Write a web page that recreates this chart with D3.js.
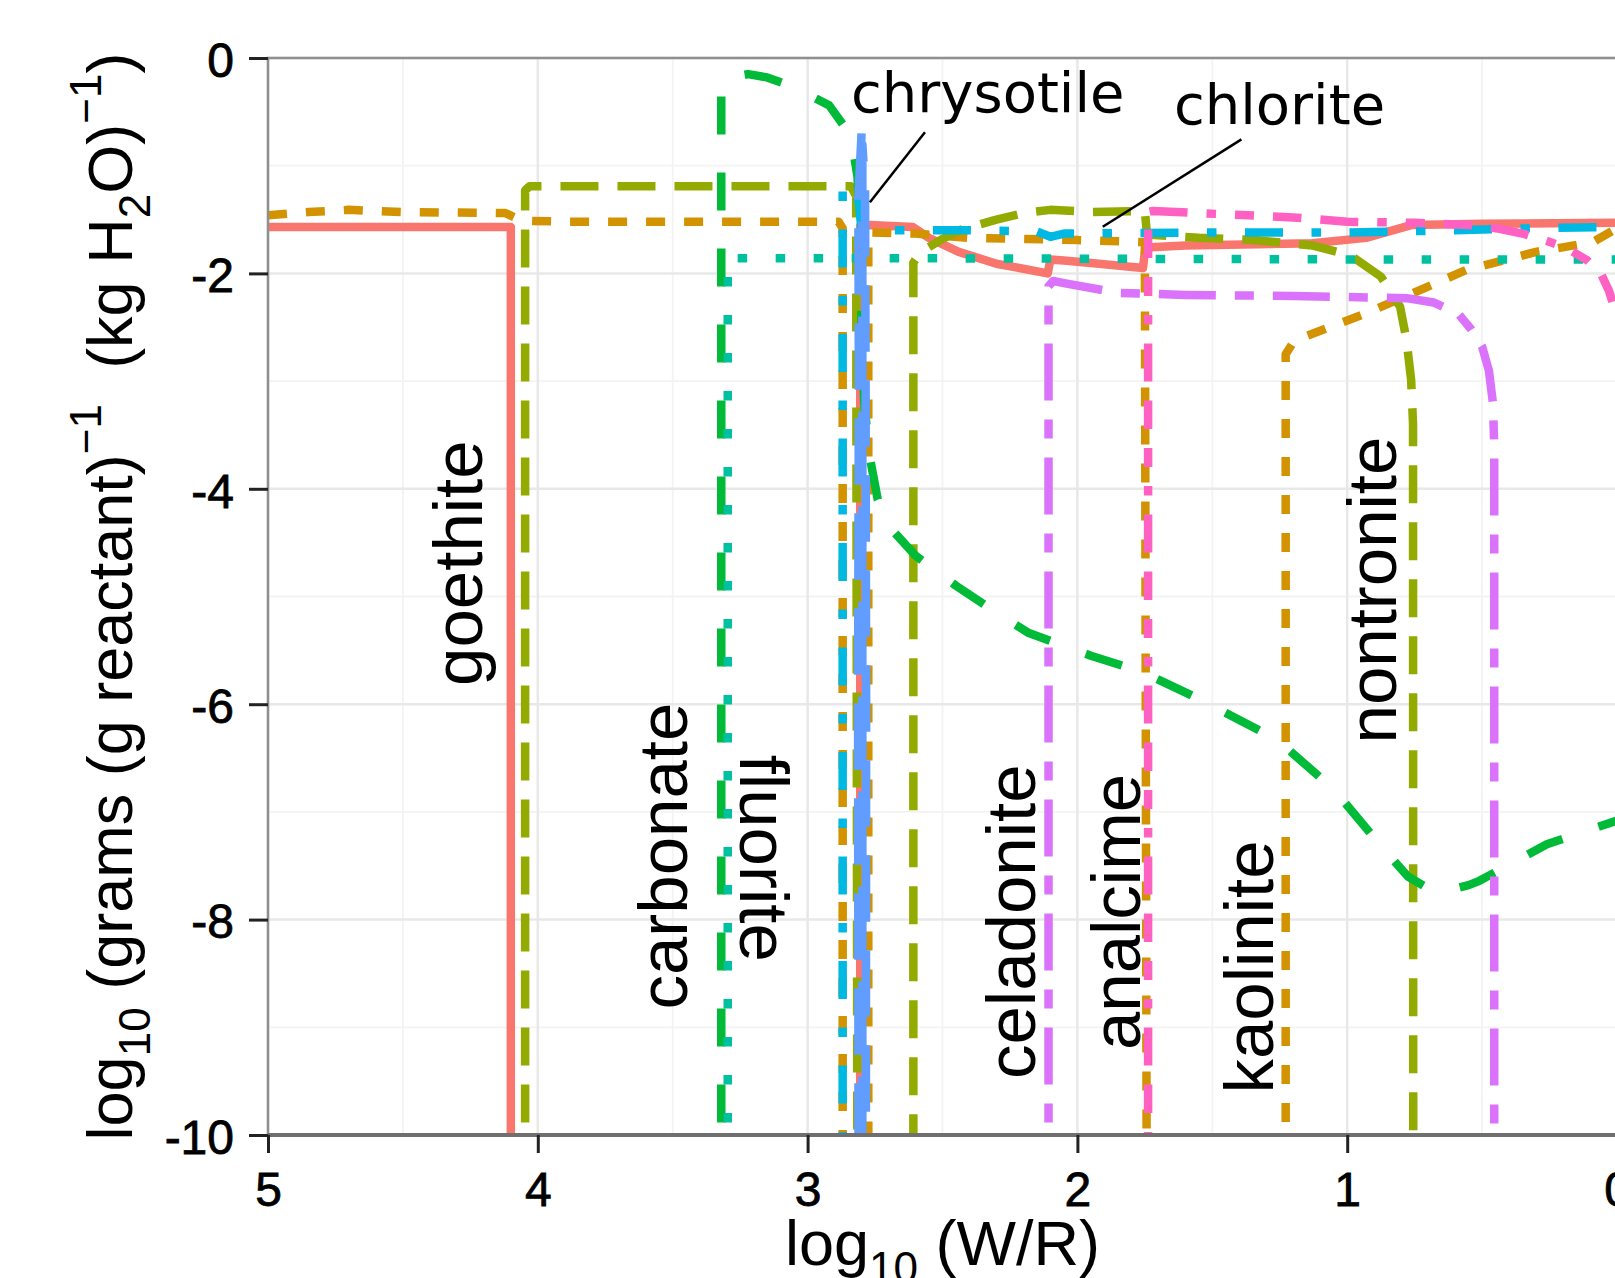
<!DOCTYPE html>
<html>
<head>
<meta charset="utf-8">
<script src="https://cdn.jsdelivr.net/npm/d3@7"></script>
<style>
  body { margin: 0; background: #fff; }
  svg { display: block; }
</style>
</head>
<body>
<svg id="chart" width="1615" height="1278"></svg>
<script>
// x = log10(W/R), y = log10 grams per kg H2O. y = -12 marks values below the -10 floor.
const xTicks = [5, 4, 3, 2, 1, 0];
const yTicks = [0, -2, -4, -6, -8, -10];

const goethite = [[5,-1.57],[4.1,-1.57],[4.1,-12],[2.805,-12],[2.805,-1.56],[2.77,-1.55],[2.61,-1.57],[2.55,-1.67],[2.44,-1.8],[2.3,-1.91],[2.11,-2.0],[2.10,-1.87],[2.05,-1.88],[1.92,-1.91],[1.757,-1.95],[1.748,-1.76],[1.6,-1.74],[1.13,-1.72],[0.93,-1.67],[0.76,-1.55],[0.5,-1.54],[0,-1.53]];
const kaolinite = [[5,-1.46],[4.85,-1.43],[4.7,-1.41],[4.5,-1.43],[4.12,-1.44],[4.06,-1.51],[3.9,-1.52],[2.885,-1.52],[2.87,-1.58],[2.87,-12],[2.775,-12],[2.775,-1.62],[2.6,-1.63],[2.4,-1.67],[2.0,-1.69],[1.75,-1.71],[1.742,-12],[1.228,-12],[1.228,-2.75],[1.2,-2.64],[1.15,-2.58],[0.93,-2.37],[0.56,-1.97],[0.3,-1.8],[0.09,-1.71],[0,-1.58]];
const nontronite = [[4.047,-12],[4.047,-1.23],[4.03,-1.19],[3.5,-1.19],[2.84,-1.19],[2.82,-1.28],[2.815,-12],[2.608,-12],[2.608,-1.9],[2.58,-1.8],[2.5,-1.68],[2.44,-1.6],[2.3,-1.5],[2.2,-1.44],[2.1,-1.41],[1.95,-1.43],[1.75,-1.42],[1.742,-1.64],[1.55,-1.67],[1.35,-1.69],[1.13,-1.74],[0.99,-1.83],[0.875,-2.03],[0.804,-2.31],[0.78,-2.62],[0.763,-2.99],[0.756,-3.4],[0.755,-12]];
const carbonate = [[3.32,-12],[3.32,-0.25],[3.29,-0.18],[3.22,-0.15],[3.15,-0.18],[3.05,-0.27],[2.92,-0.44],[2.84,-0.72],[2.815,-1.1],[2.805,-1.6],[2.8,-2.5],[2.79,-3.2],[2.77,-3.7],[2.74,-4.1],[2.68,-4.4],[2.6,-4.62],[2.45,-4.9],[2.3,-5.15],[2.18,-5.34],[1.95,-5.55],[1.76,-5.7],[1.55,-5.95],[1.26,-6.33],[1.05,-6.79],[0.87,-7.33],[0.775,-7.6],[0.7,-7.71],[0.645,-7.74],[0.55,-7.68],[0.51,-7.64],[0.26,-7.3],[0,-7.08]];
const fluorite = [[3.296,-12],[3.296,-1.86],[2.5,-1.86],[1.0,-1.87],[0,-1.87]];
const chlorite = [[2.87,-12],[2.87,-1.2],[2.855,-1.18],[2.83,-1.18],[2.81,-1.35],[2.8,-1.6],[2.75,-1.6],[2.4,-1.6],[2.15,-1.61],[2.1,-1.66],[2.05,-1.63],[1.5,-1.62],[1.0,-1.62],[0.6,-1.6],[0.3,-1.58],[0,-1.57]];
const chrysotile = [[2.8,-0.7],[2.812,-1.3],[2.81,-3],[2.813,-6],[2.811,-10.5],[2.784,-10.5],[2.783,-6],[2.785,-3],[2.787,-1.2],[2.797,-0.8],[2.797,-10.5]];
const celadonite = [[2.107,-12],[2.107,-2.12],[2.09,-2.07],[2.05,-2.09],[1.85,-2.18],[1.6,-2.2],[1.2,-2.21],[0.78,-2.23],[0.68,-2.27],[0.59,-2.37],[0.54,-2.52],[0.5,-2.68],[0.475,-2.9],[0.46,-3.2],[0.455,-3.6],[0.455,-12]];
const analcime = [[1.738,-12],[1.738,-1.43],[1.72,-1.42],[1.55,-1.44],[1.2,-1.48],[1.0,-1.52],[0.75,-1.53],[0.55,-1.55],[0.45,-1.58],[0.35,-1.63],[0.27,-1.69],[0.19,-1.76],[0.11,-1.88],[0.06,-2.0],[0.03,-2.16],[0,-2.4]];

const seriesData = [goethite, kaolinite, nontronite, carbonate, fluorite, chlorite, chrysotile, celadonite, analcime];
const colors = ["#F8766D", "#D39200", "#93AA00", "#00BA38", "#00C19F", "#00B9E3", "#619CFF", "#DB72FB", "#FF61C3"];
const linetypes = ["solid", "22", "42", "44", "13", "1343", "73", "2262", "12223242"];

// vertical mineral labels: name, x (baseline), y (centre), rotation
const vLabels = ["goethite", "carbonate", "fluorite", "celadonite", "analcime", "kaolinite", "nontronite"];
const vLabelX = [4.207, 3.447, 3.25, 2.157, 1.768, 1.275, 0.82];
const vLabelY = [-4.69, -7.41, -7.43, -8.02, -7.93, -8.44, -4.94];
const vLabelRot = [-90, -90, 90, -90, -90, -90, -90];

// labels with leader lines
const tLabels = ["chrysotile", "chlorite"];
const tLabelX = [2.839, 1.642];
const tLabelY = [-0.505, -0.615];
const leaderFrom = [[2.769, -1.34], [1.906, -1.567]];
const leaderTo = [[2.565, -0.689], [1.392, -0.756]];

const svg = d3.select("#chart");
const padL = 268, padT = 58, padB = 1135, padR = 1617;

const x = d3.scaleLinear().domain([5, 0]).range([padL, padR]);
const y = d3.scaleLinear().domain([-10, 0]).range([padB, padT]);

const lw = 8.5, unit = 9.5;
const dash = lt => lt === "solid" ? null : lt.split("").map(c => +c * unit).join(",");

svg.append("defs").append("clipPath").attr("id", "panel")
  .append("rect").attr("x", padL).attr("y", padT).attr("width", padR - padL).attr("height", padB - padT);

// grid
const grid = svg.append("g");
const xMinor = d3.range(4.5, -0.1, -1);
const yMinor = d3.range(-1, -10, -2);
grid.selectAll(".xm").data(xMinor).join("line")
  .attr("x1", d => x(d)).attr("x2", d => x(d)).attr("y1", padT).attr("y2", padB)
  .attr("stroke", "#f3f3f3").attr("stroke-width", 1.8);
grid.selectAll(".ym").data(yMinor).join("line")
  .attr("y1", d => y(d)).attr("y2", d => y(d)).attr("x1", padL).attr("x2", padR)
  .attr("stroke", "#f3f3f3").attr("stroke-width", 1.8);
grid.selectAll(".xM").data(xTicks).join("line")
  .attr("x1", d => x(d)).attr("x2", d => x(d)).attr("y1", padT).attr("y2", padB)
  .attr("stroke", "#e8e8e8").attr("stroke-width", 2.5);
grid.selectAll(".yM").data(yTicks).join("line")
  .attr("y1", d => y(d)).attr("y2", d => y(d)).attr("x1", padL).attr("x2", padR)
  .attr("stroke", "#e8e8e8").attr("stroke-width", 2.5);

// series
const line = d3.line().x(d => x(d[0])).y(d => y(d[1]));
svg.append("g").attr("clip-path", "url(#panel)")
  .selectAll("path").data(seriesData).join("path")
  .attr("d", line)
  .attr("fill", "none")
  .attr("stroke", (d, i) => colors[i])
  .attr("stroke-width", lw)
  .attr("stroke-linejoin", "round")
  .attr("stroke-linecap", "butt")
  .attr("stroke-dasharray", (d, i) => dash(linetypes[i]));

// panel border and bottom axis line
svg.append("rect").attr("x", padL).attr("y", padT).attr("width", padR - padL).attr("height", padB - padT)
  .attr("fill", "none").attr("stroke", "#8f8f8f").attr("stroke-width", 2.5);
svg.append("line").attr("x1", padL).attr("x2", padR).attr("y1", padB).attr("y2", padB)
  .attr("stroke", "#6f6f6f").attr("stroke-width", 4);

// axes
const tickFont = "'Liberation Sans', Arial, Helvetica, sans-serif";
const xAxis = svg.append("g").attr("transform", `translate(0,${padB})`)
  .call(d3.axisBottom(x).tickValues(xTicks).tickFormat(d => String(d)).tickSize(18).tickPadding(19));
const yAxis = svg.append("g").attr("transform", `translate(${padL},0)`)
  .call(d3.axisLeft(y).tickValues(yTicks).tickFormat(d => String(d)).tickSize(19).tickPadding(15));
[xAxis, yAxis].forEach(a => {
  a.select(".domain").remove();
  a.selectAll(".tick line").attr("stroke", "#222").attr("stroke-width", 3);
  a.selectAll(".tick text").attr("fill", "#000").attr("font-size", 48).attr("font-family", tickFont)
    .attr("stroke", "#000").attr("stroke-width", 0.8);
});
yAxis.selectAll(".tick text").attr("dy", "0.38em");

// rich text helper for sub/superscripts
function rich(sel, parts, fs) {
  let shift = 0;
  parts.forEach(([t, k]) => {
    const target = k === "sub" ? 0.28 * fs : k === "sup" ? -0.5 * fs : 0;
    sel.append("tspan")
      .attr("dy", target - shift)
      .attr("font-size", k === "n" ? fs : 0.7 * fs)
      .text(t);
    shift = target;
  });
}

const titleFs = 63;
const xt = svg.append("text")
  .attr("x", (padL + padR) / 2).attr("y", 1265)
  .attr("text-anchor", "middle").attr("font-family", tickFont).attr("fill", "#000");
rich(xt, [["log", "n"], ["10", "sub"], ["\u00a0(W/R)", "n"]], titleFs);

const yt = svg.append("text")
  .attr("transform", `translate(132,${(padT + padB) / 2}) rotate(-90)`)
  .attr("text-anchor", "middle").attr("font-family", tickFont).attr("fill", "#000");
rich(yt, [["log", "n"], ["10", "sub"], ["\u00a0(grams (g reactant)", "n"], ["\u22121", "sup"],
  ["\u00a0\u00a0(kg H", "n"], ["2", "sub"], ["O)", "n"], ["\u22121", "sup"], [")", "n"]], titleFs);

// vertical labels
svg.append("g").selectAll("text").data(vLabels).join("text")
  .attr("transform", (d, i) => `translate(${x(vLabelX[i])},${y(vLabelY[i])}) rotate(${vLabelRot[i]})`)
  .attr("text-anchor", "middle")
  .attr("font-family", tickFont)
  .attr("font-size", 69)
  .attr("fill", "#000")
  .text(d => d);

// leader lines and horizontal labels
svg.append("g").selectAll("line").data(leaderFrom).join("line")
  .attr("x1", d => x(d[0])).attr("y1", d => y(d[1]))
  .attr("x2", (d, i) => x(leaderTo[i][0])).attr("y2", (d, i) => y(leaderTo[i][1]))
  .attr("stroke", "#000").attr("stroke-width", 2.5);
svg.append("g").selectAll("text").data(tLabels).join("text")
  .attr("x", (d, i) => x(tLabelX[i])).attr("y", (d, i) => y(tLabelY[i]))
  .attr("font-family", "'DejaVu Sans', Verdana, sans-serif")
  .attr("font-size", 56)
  .attr("fill", "#000")
  .text(d => d);
</script>
</body>
</html>
